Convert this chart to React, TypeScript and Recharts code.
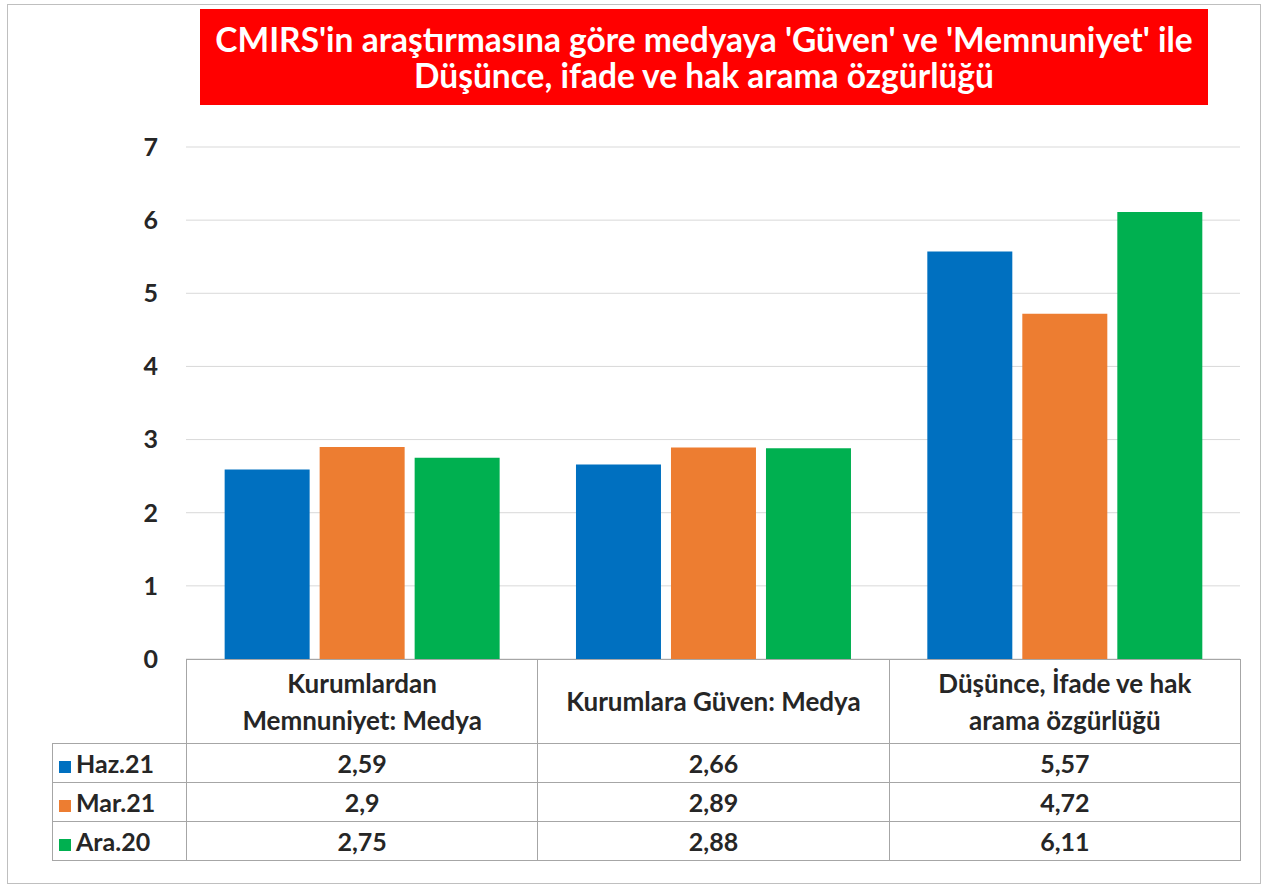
import { BarChart, Bar, XAxis, YAxis, CartesianGrid } from 'recharts';

const CATEGORIES = ['Kurumlardan Memnuniyet: Medya', 'Kurumlara Güven: Medya', 'Düşünce, İfade ve hak arama özgürlüğü'];
const CATEGORY_LINES = [['Kurumlardan', 'Memnuniyet: Medya'], ['Kurumlara Güven: Medya'], ['Düşünce, İfade ve hak', 'arama özgürlüğü']];
const SERIES = ['Haz.21', 'Mar.21', 'Ara.20'];
const HAZ21 = [2.59, 2.66, 5.57];
const MAR21 = [2.9, 2.89, 4.72];
const ARA20 = [2.75, 2.88, 6.11];
const Y_TICKS = [0, 1, 2, 3, 4, 5, 6, 7];
const COLORS = ['#0070c0', '#ed7d31', '#00b050'];
const TITLE = ["CMIRS'in araştırmasına göre medyaya 'Güven' ve 'Memnuniyet' ile", 'Düşünce, ifade ve hak arama özgürlüğü'];

const VALUES = [HAZ21, MAR21, ARA20];

const chartData = CATEGORIES.map((name, i) => ({
  name,
  s0: HAZ21[i],
  s1: MAR21[i],
  s2: ARA20[i],
}));

const FONT = 'Lato, "Open Sans", sans-serif';
const TEXT = '#262626';
const BORDER = '#a6a6a6';

// plot area: x 186..1240, y 147..659
const PLOT_LEFT = 186;
const PLOT_RIGHT = 1240;
const PLOT_TOP = 147;
const PLOT_BOTTOM = 659;
const COL_W = (PLOT_RIGHT - PLOT_LEFT) / CATEGORIES.length;

const fmt = (v: number) => String(v).replace('.', ',');

export default function App() {
  return (
    <div style={{ position: 'absolute', left: 0, top: 0, width: 1268, height: 887, background: '#fff', fontFamily: FONT }}>
      <div style={{ position: 'absolute', left: 7, top: 4, width: 1254, height: 880, border: '1px solid #bfbfbf', boxSizing: 'border-box' }} />

      <div
        style={{
          position: 'absolute', left: 200, top: 9, width: 1008, height: 96, background: '#ff0000',
          color: '#fff', fontWeight: 700, fontSize: 33.5, lineHeight: '36px', textAlign: 'center',
          display: 'flex', flexDirection: 'column', justifyContent: 'center',
        }}
      >
        {TITLE.map(t => <div key={t}>{t}</div>)}
      </div>

      <div style={{ position: 'absolute', left: 0, top: 0 }}>
        <BarChart
          width={1268}
          height={887}
          data={chartData}
          margin={{ top: PLOT_TOP, bottom: 887 - PLOT_BOTTOM, left: PLOT_LEFT - 60, right: 1268 - PLOT_RIGHT }}
          barCategoryGap="11%"
          barGap={10}
        >
          <CartesianGrid vertical={false} stroke="#d9d9d9" />
          <XAxis dataKey="name" hide />
          <YAxis
            width={60}
            domain={[0, 7]}
            ticks={Y_TICKS}
            axisLine={false}
            tickLine={false}
            tickMargin={22}
            tick={{ fill: TEXT, fontSize: 25, fontWeight: 700, fontFamily: FONT }}
          />
          {SERIES.map((s, i) => (
            <Bar key={s} dataKey={`s${i}`} name={s} fill={COLORS[i]} isAnimationActive={false} />
          ))}
        </BarChart>
      </div>

      <table
        style={{
          position: 'absolute', left: 52, top: PLOT_BOTTOM, borderCollapse: 'collapse', tableLayout: 'fixed',
          fontFamily: FONT, fontWeight: 700, color: TEXT, fontSize: 26,
        }}
      >
        <colgroup>
          <col style={{ width: PLOT_LEFT - 52 }} />
          {CATEGORIES.map(c => <col key={c} style={{ width: COL_W }} />)}
        </colgroup>
        <tbody>
          <tr style={{ height: 84 }}>
            <td style={{ padding: 0 }} />
            {CATEGORY_LINES.map((lines, i) => (
              <td key={i} style={{ border: `1px solid ${BORDER}`, textAlign: 'center', padding: 0, lineHeight: '37px' }}>
                {lines.map(l => <div key={l}>{l}</div>)}
              </td>
            ))}
          </tr>
          {SERIES.map((s, si) => (
            <tr key={s} style={{ height: 39 }}>
              <td style={{ border: `1px solid ${BORDER}`, padding: '0 0 0 6px', whiteSpace: 'nowrap', fontSize: 25, lineHeight: '37px' }}>
                <span style={{ display: 'inline-block', width: 12, height: 12, background: COLORS[si], marginRight: 5 }} />
                {s}
              </td>
              {VALUES[si].map((v, ci) => (
                <td key={ci} style={{ border: `1px solid ${BORDER}`, textAlign: 'center', padding: 0, fontSize: 25, lineHeight: '37px' }}>
                  {fmt(v)}
                </td>
              ))}
            </tr>
          ))}
        </tbody>
      </table>
    </div>
  );
}
